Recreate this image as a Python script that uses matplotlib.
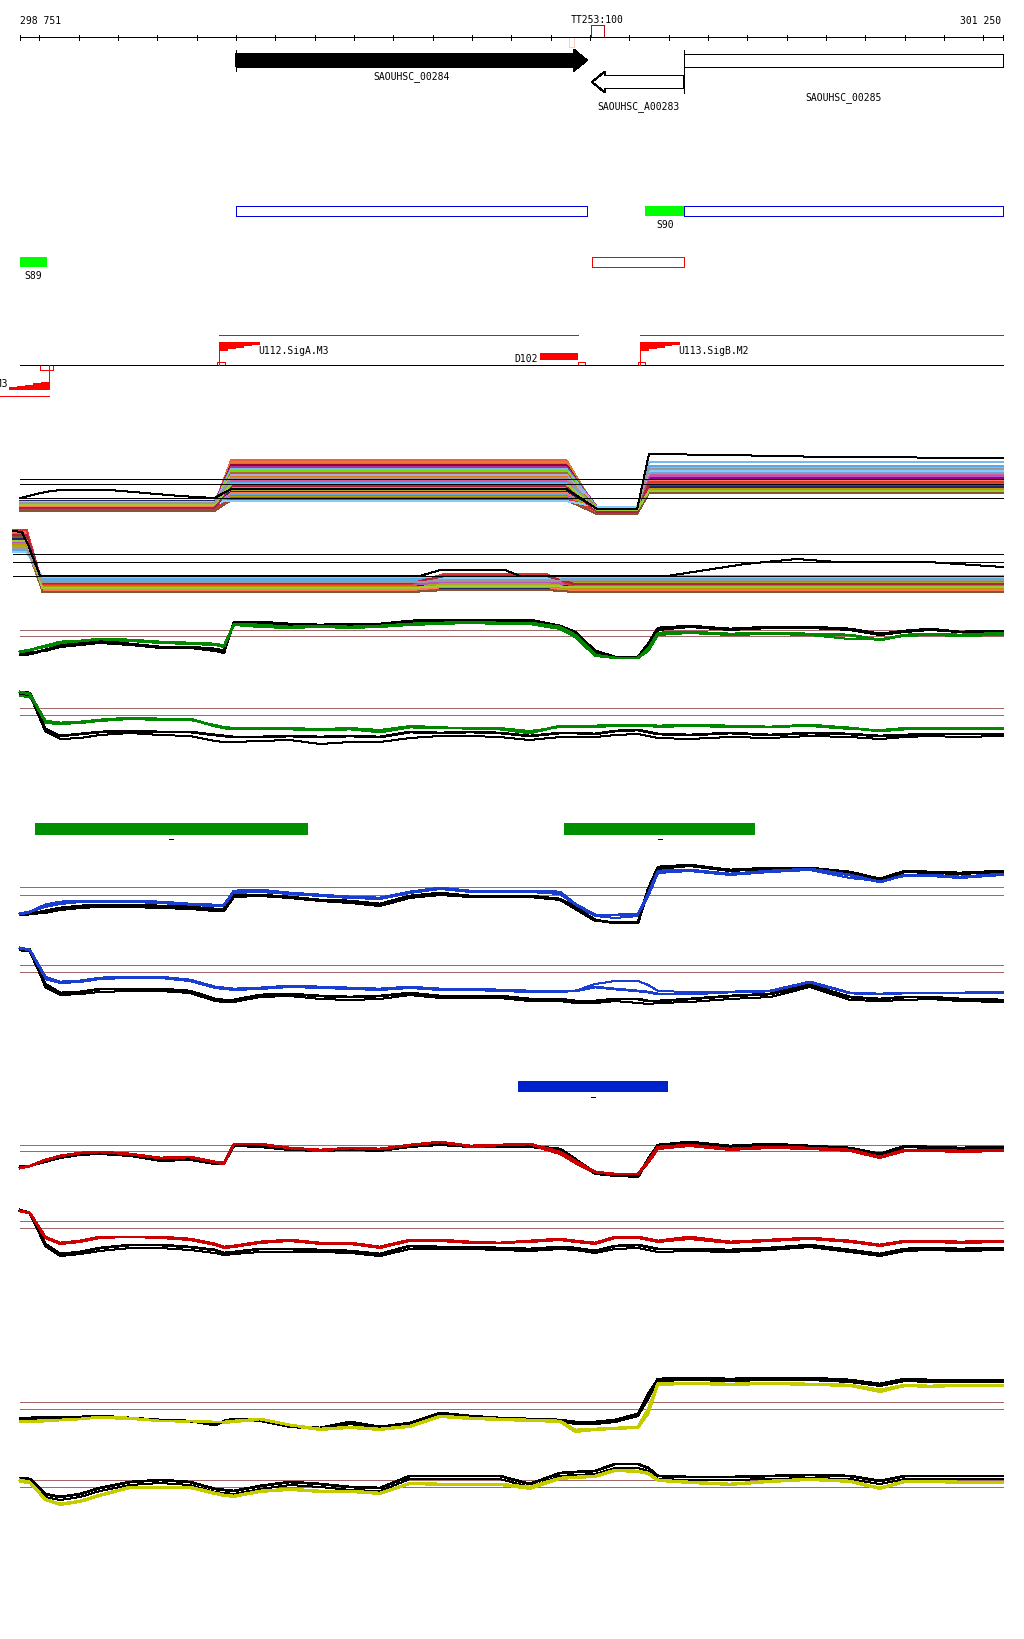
import matplotlib
matplotlib.use("Agg")
import matplotlib.pyplot as plt
from matplotlib.patches import Rectangle, Polygon

plt.rcParams['font.family'] = ['DejaVu Sans Mono', 'DejaVu Sans']
plt.rcParams['lines.antialiased'] = False
plt.rcParams['patch.antialiased'] = False

# ---------------- data ----------------
view_start = 298751
view_end = 301250
ruler_step = 100

gene_names = ['SAOUHSC_00284', 'SAOUHSC_A00283', 'SAOUHSC_00285']
gene_start = [299301, 300205, 300440]
gene_end = [300192, 300440, 301250]
gene_strand = ['+', '-', '+']
gene_fill = ['black', 'white', 'white']

ruler_mark = 'TT253:100'
ruler_mark_start, ruler_mark_end = 300203, 300236
faint_mark_start, faint_mark_end = 300147, 300160

feat_start = [299301, 300440, 300340, 298751, 300205]
feat_end = [300192, 301250, 300440, 298820, 300440]
feat_kind = ['blue', 'blue', 'green', 'green', 'red']
feat_label = ['', '', 'S90', 'S89', '']

promoter_names = ['U111.SigA.M3', 'U112.SigA.M3', 'U113.SigB.M2']
promoter_pos = [298824, 299258, 300327]
promoter_strand = ['-', '+', '+']
terminator_name = 'D102'
terminator_start, terminator_end = 300073, 300170
transcript_start = [298650, 299258, 300327]
transcript_end = [298824, 300170, 301250]
transcript_strand = ['-', '+', '+']

green_bar_start = [298788, 300134]
green_bar_end = [299482, 300620]
blue_bar_start = [300017]
blue_bar_end = [300398]

# multi-condition tracks (one line per condition)
multi_colors = ['#f06040', '#e87a30', '#999900', '#990033', '#aa3399', '#77bbee', '#77dd00',
                '#aa6633', '#aaaadd', '#dd7722', '#888800', '#dd5599', '#55aaee', '#ee8866',
                '#990099', '#66cc00', '#cc6633', '#aaaa22', '#222266', '#ff7755', '#66aadd',
                '#bb55bb', '#bb9900', '#dd3333', '#885533', '#88ccff', '#aa2244', '#99cc33',
                '#999999']
A_nodes = [298751, 299245, 299288, 300140, 300218, 300320, 300350, 301250]
A_left = [14, 15, 13, 16, 17, 15, 14, 12, 16, 14, 17, 15, 18, 13, 17, 16, 14, 15, 18, 12,
          16, 14, 15, 10, 8, 17, 11, 14, 16]
A_mid = [59, 57, 55, 54, 52, 50, 48, 46, 44, 42, 40, 38, 36, 34, 32, 31, 29, 28, 27, 26,
         24, 23, 22, 21, 19, 18, 33, 35, 41]
A_dip = [8, 10, 11, 9, 12, 11, 10, 7, 12, 8, 11, 9, 10, 8, 11, 12, 7, 10, 11, 6,
         10, 9, 11, 8, 5, 12, 7, 9, 10]
A_right = [44, 42, 38, 49, 47, 57, 33, 40, 51, 36, 35, 45, 53, 31, 41, 29, 34, 37, 32, 39,
           46, 43, 30, 37, 26, 48, 34, 28, 50]
A_black_pos = [298751, 298815, 298853, 298980, 299158, 299245, 299288, 300140, 300218,
               300320, 300350, 300543, 300810, 301250]
A_black_val = [21, 27, 29, 29, 23, 21, 30, 30, 10, 10, 65, 64, 62, 61]
A_refs = [40, 35, 21]

B_nodes = [298733, 298768, 298808, 299745, 299830, 300090, 300160, 301250]
B_start = [75, 70, 65, 72, 68, 60, 66, 62, 58, 73, 69, 71, 59, 74, 67, 64, 76, 63, 70, 77,
           61, 66, 65, 79, 72, 57, 74, 68, 60]
B_flat1 = [24, 22, 26, 27, 25, 30, 23, 18, 28, 21, 24, 26, 31, 20, 25, 22, 21, 23, 24, 19,
           29, 24, 22, 25, 17, 32, 26, 21, 27]
B_flat2 = [26, 24, 28, 30, 27, 32, 25, 20, 30, 23, 26, 28, 32, 22, 29, 24, 24, 25, 20, 22,
           30, 27, 23, 35, 19, 31, 33, 23, 28]
B_flat3 = [25, 27, 23, 28, 26, 32, 24, 19, 31, 22, 21, 27, 33, 20, 25, 23, 21, 26, 24, 18,
           30, 24, 20, 22, 17, 32, 25, 22, 29]
B_black_pos = [298733, 298756, 298771, 298802, 299768, 299819, 299984, 300022, 300396,
               300594, 300726, 300828, 301059, 301250]
B_black_val = [78, 77, 65, 33, 33, 39, 39, 33, 33, 45, 50, 47, 47, 42]
B_refs = [55, 47, 33]

# paired tracks: probe positions shared by all
probe_pos = [298751, 298776, 298815, 298853, 298904, 298954, 299031, 299107, 299183, 299247,
             299270, 299295, 299361, 299437, 299514, 299590, 299666, 299742, 299819, 299895,
             299971, 300047, 300124, 300162, 300213, 300264, 300322, 300348, 300373, 300454,
             300556, 300658, 300759, 300861, 300937, 301001, 301064, 301141, 301250]

C_k1 = [14, 15, 19, 23, 26, 28, 25, 22, 22, 20, 18, 47, 47, 45, 44, 45, 45, 48, 49, 49, 49, 49, 43, 37, 18, 12, 12, 25, 41, 43, 40, 42, 42, 40, 35, 38, 40, 37, 38]
C_k2 = [16, 17, 18, 22, 24, 26, 24, 21, 21, 18, 16, 46, 45, 44, 43, 44, 44, 46, 48, 48, 48, 48, 42, 34, 15, 11, 11, 22, 39, 42, 39, 41, 41, 39, 34, 37, 39, 37, 38]
C_c1 = [17, 19, 23, 27, 28, 30, 29, 27, 26, 25, 23, 45, 44, 42, 43, 42, 43, 45, 46, 47, 46, 46, 42, 34, 14, 11, 11, 20, 36, 37, 35, 36, 35, 34, 29, 34, 35, 34, 36]
C_c2 = [18, 19, 22, 25, 27, 29, 28, 26, 25, 24, 22, 44, 42, 41, 42, 41, 42, 44, 45, 46, 45, 45, 40, 32, 13, 11, 11, 18, 34, 36, 34, 35, 34, 30, 30, 33, 34, 33, 34]
C_refs = [39.5, 33]

D_k1 = [57, 56, 20, 13, 15, 17, 18, 17, 17, 14, 13, 12, 12, 13, 12, 13, 12, 17, 16, 17, 16, 13, 16, 16, 15, 18, 19, 17, 15, 14, 16, 14, 16, 15, 13, 14, 15, 15, 15]
D_k2 = [55, 54, 18, 10, 11, 14, 16, 14, 13, 8, 7, 7, 8, 9, 5, 7, 7, 11, 13, 13, 12, 9, 12, 12, 12, 14, 15, 13, 11, 10, 12, 11, 13, 12, 10, 12, 13, 12, 13]
D_c1 = [57, 55, 28, 26, 27, 29, 31, 30, 30, 23, 21, 20, 20, 20, 19, 20, 17, 22, 21, 21, 20, 16, 23, 23, 23, 24, 24, 24, 23, 24, 23, 22, 24, 21, 18, 20, 20, 20, 20]
D_c2 = [53, 52, 26, 25, 26, 28, 30, 29, 29, 24, 22, 21, 21, 21, 20, 21, 19, 23, 22, 20, 21, 18, 22, 22, 22, 23, 23, 23, 22, 23, 22, 22, 23, 20, 19, 21, 21, 21, 21]
D_refs = [41, 34.5]

E_k1 = [14, 15, 18, 21, 23, 24, 24, 23, 22, 20, 20, 34, 34, 32, 29, 28, 25, 33, 36, 33, 33, 33, 30, 22, 9, 6, 6, 40, 62, 64, 59, 61, 61, 57, 50, 58, 57, 56, 58]
E_k2 = [15, 15, 16, 19, 21, 22, 22, 21, 20, 18, 18, 32, 33, 31, 28, 26, 23, 31, 34, 32, 32, 32, 29, 20, 8, 7, 7, 36, 60, 63, 58, 60, 60, 56, 49, 57, 56, 55, 57]
E_c1 = [15, 17, 24, 27, 28, 28, 28, 27, 25, 24, 24, 38, 39, 36, 34, 32, 31, 37, 41, 38, 38, 38, 37, 25, 14, 14, 15, 35, 58, 59, 55, 58, 60, 54, 47, 54, 54, 52, 55]
E_c2 = [16, 17, 22, 25, 27, 27, 27, 26, 24, 23, 23, 36, 37, 35, 33, 31, 30, 36, 40, 37, 37, 37, 35, 24, 13, 11, 13, 33, 56, 58, 54, 57, 59, 51, 48, 53, 53, 51, 54]
E_refs = [42, 34.5]

F_k1 = [59, 58, 25, 16, 17, 20, 20, 20, 18, 10, 9, 9, 14, 15, 13, 12, 13, 16, 13, 13, 13, 10, 10, 8, 8, 10, 10, 8, 8, 10, 13, 15, 24, 12, 10, 12, 12, 10, 9]
F_k2 = [61, 60, 22, 14, 15, 17, 18, 18, 16, 8, 7, 7, 12, 13, 10, 9, 10, 14, 11, 11, 11, 8, 8, 6, 6, 8, 6, 5, 6, 7, 10, 12, 22, 9, 8, 9, 10, 8, 7]
F_c1 = [61, 59, 32, 27, 28, 31, 32, 32, 29, 22, 21, 20, 21, 23, 22, 21, 20, 22, 20, 20, 19, 18, 18, 18, 22, 20, 18, 17, 15, 15, 17, 18, 27, 16, 15, 16, 16, 16, 17]
F_c2 = [60, 58, 30, 26, 27, 30, 31, 31, 28, 21, 20, 19, 20, 22, 21, 20, 19, 21, 19, 19, 18, 17, 17, 18, 25, 28, 28, 24, 18, 17, 17, 18, 26, 16, 15, 16, 16, 16, 16]
F_refs = [44.5, 37.5]

G_k1 = [22, 23, 28, 32, 35, 36, 34, 29, 30, 26, 26, 44, 43, 40, 39, 40, 39, 43, 45, 43, 43, 43, 40, 30, 16, 14, 12, 30, 44, 47, 43, 45, 43, 41, 35, 43, 42, 41, 42]
G_k2 = [23, 23, 27, 31, 34, 35, 33, 28, 29, 25, 25, 43, 42, 39, 38, 39, 38, 42, 44, 42, 42, 42, 39, 28, 15, 13, 13, 28, 42, 46, 42, 44, 42, 40, 33, 42, 41, 40, 41]
G_c1 = [21, 23, 29, 33, 36, 37, 35, 31, 32, 27, 26, 45, 45, 41, 39, 41, 40, 44, 47, 43, 44, 45, 37, 28, 17, 15, 15, 28, 42, 44, 40, 42, 41, 39, 32, 39, 39, 38, 39]
G_c2 = [22, 23, 28, 32, 35, 36, 34, 30, 31, 26, 25, 44, 44, 40, 38, 40, 39, 43, 46, 42, 43, 44, 35, 26, 16, 14, 14, 26, 40, 43, 39, 41, 40, 38, 31, 38, 38, 37, 38]
G_refs = [44.5, 38]

H_k1 = [54, 51, 20, 10, 12, 16, 19, 19, 17, 14, 11, 12, 15, 15, 14, 13, 10, 18, 17, 17, 16, 15, 17, 16, 13, 18, 19, 17, 15, 15, 14, 16, 19, 14, 10, 15, 16, 15, 16]
H_k2 = [54, 51, 18, 8, 10, 13, 16, 16, 14, 11, 9, 10, 12, 12, 12, 11, 8, 15, 15, 15, 14, 13, 15, 14, 11, 15, 16, 14, 12, 13, 12, 14, 17, 12, 8, 13, 14, 13, 14]
H_c1 = [53, 51, 27, 21, 23, 27, 27, 27, 25, 20, 17, 18, 22, 24, 21, 21, 17, 24, 24, 22, 21, 23, 25, 23, 21, 27, 27, 25, 23, 27, 22, 24, 26, 23, 19, 23, 23, 22, 23]
H_c2 = [54, 51, 26, 20, 22, 26, 27, 26, 24, 19, 16, 17, 21, 23, 20, 20, 16, 23, 23, 21, 21, 22, 24, 22, 20, 26, 26, 24, 22, 25, 21, 23, 25, 22, 18, 22, 22, 21, 22]
H_refs = [42.7, 35.7]

I_k1 = [26, 26, 27, 27, 27, 28, 26, 24, 23, 19, 23, 25, 24, 18, 16, 22, 17, 21, 31, 28, 26, 25, 24, 22, 22, 24, 30, 50, 65, 66, 65, 66, 66, 64, 60, 65, 64, 64, 64]
I_k2 = [25, 25, 26, 26, 26, 27, 25, 23, 22, 21, 22, 24, 23, 17, 15, 20, 16, 20, 29, 27, 25, 24, 23, 20, 20, 22, 28, 45, 63, 64, 63, 64, 64, 62, 58, 63, 62, 62, 62]
I_c1 = [22, 22, 23, 24, 25, 27, 26, 23, 23, 22, 22, 23, 25, 19, 15, 17, 15, 18, 28, 26, 25, 24, 23, 14, 15, 16, 17, 35, 61, 61, 60, 61, 60, 59, 54, 59, 58, 59, 59]
I_c2 = [23, 23, 24, 24, 25, 26, 25, 23, 22, 21, 21, 22, 24, 18, 14, 16, 14, 17, 27, 25, 24, 23, 22, 12, 14, 15, 16, 30, 59, 60, 59, 60, 59, 58, 52, 58, 57, 58, 58]
I_refs = [41.7, 34.7]

J_k1 = [41, 40, 25, 22, 25, 31, 37, 39, 37, 30, 29, 28, 33, 37, 35, 32, 31, 43, 43, 43, 43, 35, 46, 47, 48, 55, 55, 51, 43, 42, 42, 43, 44, 43, 38, 43, 43, 43, 43]
J_k2 = [40, 39, 22, 19, 22, 28, 34, 36, 34, 27, 26, 25, 30, 34, 32, 29, 28, 40, 40, 40, 40, 32, 43, 44, 45, 51, 51, 48, 40, 39, 39, 40, 41, 40, 35, 40, 40, 40, 40]
J_c1 = [39, 37, 20, 15, 18, 24, 32, 32, 32, 26, 24, 23, 28, 30, 28, 28, 26, 36, 35, 35, 35, 32, 41, 42, 43, 49, 48, 46, 39, 37, 35, 38, 40, 38, 31, 38, 38, 37, 37]
J_c2 = [37, 36, 19, 14, 17, 23, 31, 31, 31, 25, 23, 22, 27, 29, 27, 27, 25, 35, 34, 34, 34, 30, 40, 41, 42, 48, 47, 45, 38, 36, 34, 37, 39, 37, 30, 37, 37, 36, 36]
J_refs = [39, 32.5]

# ---------------- layout ----------------
W, H = 1024, 1640
px_per_bp = 983 / (view_end - view_start)
bp = 1 / px_per_bp            # one pixel, in bp
xlim = (view_start - 20 * bp, view_start + (W - 20) * bp)
FS = 7
LW1 = 0.72                    # one pixel
ref_color = '#a06868'

fig = plt.figure(figsize=(W / 100, H / 100), dpi=100)
ax = fig.add_axes([0, 0, 1, 1])
ax.set_xlim(xlim)
ax.set_ylim(H, 0)
ax.axis('off')

# ruler
ax.hlines(38.3, view_start, view_end, color='black', lw=LW1)
ticks = [view_start] + list(range(298800, view_end, ruler_step)) + [view_end]
ax.vlines(ticks, 35.5, 41, color='black', lw=LW1)
ax.text(view_start, 24, '298 751', fontsize=FS, ha='left', va='baseline')
ax.text(view_end - 2 * bp, 24, '301 250', fontsize=FS, ha='right', va='baseline')
ax.text((ruler_mark_start + ruler_mark_end) / 2, 23.3, ruler_mark, fontsize=FS,
        ha='center', va='baseline')
ax.add_patch(Rectangle((ruler_mark_start, 25.7), ruler_mark_end - ruler_mark_start, 12.6,
                       fill=False, edgecolor='#aa1111', lw=LW1))
ax.add_patch(Rectangle((faint_mark_start, 38.3), faint_mark_end - faint_mark_start, 9.7,
                       fill=False, edgecolor='#f5cfc0', lw=LW1))

# genes
gene_row = {'SAOUHSC_00284': 0, 'SAOUHSC_A00283': 1, 'SAOUHSC_00285': 0}
gene_label_y = {'SAOUHSC_00284': 79, 'SAOUHSC_A00283': 109, 'SAOUHSC_00285': 100}
head = 33
for name, s, e, strand, fill in zip(gene_names, gene_start, gene_end, gene_strand, gene_fill):
    yc = 61.3 + 21.7 * gene_row[name]
    bh, hh = 6.5, 10.6
    if strand == '+':
        if e < view_end:
            b = e - head
            pts = [(s, yc - bh), (b, yc - bh), (b, yc - hh), (e, yc), (b, yc + hh),
                   (b, yc + bh), (s, yc + bh)]
        else:
            pts = [(s, yc - bh), (e, yc - bh), (e, yc + bh), (s, yc + bh)]
        tick_x = s
    else:
        b = s + head
        pts = [(e, yc - bh), (b, yc - bh), (b, yc - hh), (s, yc), (b, yc + hh),
               (b, yc + bh), (e, yc + bh)]
        tick_x = e
    ax.add_patch(Polygon(pts, closed=True, facecolor=fill, edgecolor='black', lw=LW1))
    ax.vlines(tick_x, yc - hh, yc + hh, color='black', lw=LW1)
    ax.text((s + min(e, view_end)) / 2, gene_label_y[name], name, fontsize=FS,
            ha='center', va='baseline')

# transcription units / sigma sites
feat_rows = [207.3, 207.3, 207.3, 258.3, 258.3]
for s, e, kind, lab, y in zip(feat_start, feat_end, feat_kind, feat_label, feat_rows):
    if kind == 'green':
        ax.add_patch(Rectangle((s, y), e - s, 9.5, facecolor='#00ff00', edgecolor='none'))
    else:
        col = '#0000dd' if kind == 'blue' else '#ff0000'
        ax.add_patch(Rectangle((s, y), e - s, 9.5, fill=False, edgecolor=col, lw=LW1))
    if lab:
        ax.text((s + e) / 2, y + 20.7, lab, fontsize=FS, ha='center', va='baseline')

# promoters, terminator, transcripts
line_y = 366.3
ax.hlines(line_y, view_start, view_end, color='black', lw=LW1)
for s, e, strand in zip(transcript_start, transcript_end, transcript_strand):
    ax.hlines(336 if strand == '+' else 397.3, s, e, color='#ff0000', lw=LW1)

flag_len = 100
steps = 5
for name, p, strand in zip(promoter_names, promoter_pos, promoter_strand):
    if strand == '+':
        dx, base, dy, fh = 1, 343.3, 1, 7.7
    else:
        dx, base, dy, fh = -1, 389.7, -1, 7.0
    ax.vlines(p, min(base, line_y), max(base, line_y), color='#ff0000', lw=LW1)
    pts = [(p, base), (p + dx * flag_len, base)]
    for k in range(steps - 1, -1, -1):
        xk = p + dx * flag_len * (k + 1) / steps
        yk = base + dy * fh * (steps - k) / steps
        pts += [(xk, yk), (p + dx * flag_len * k / steps, yk)]
    ax.add_patch(Polygon(pts, closed=True, facecolor='#ff0000', edgecolor='#ff0000', lw=0.4))
    if strand == '+':
        ax.add_patch(Rectangle((p - 5, line_y - 3.6), 19, 3.6, fill=False,
                               edgecolor='#ff0000', lw=LW1))
        ax.text(p + flag_len - 1 * bp, 354.3, name, fontsize=FS, ha='left', va='baseline')
    else:
        ax.add_patch(Rectangle((p - 21, line_y), 33, 4.4, fill=False,
                               edgecolor='#ff0000', lw=LW1))
        ax.text(p - flag_len - 1.5 * bp, 386.7, name, fontsize=FS, ha='right',
                va='baseline')

ax.add_patch(Rectangle((terminator_start, 353.5), terminator_end - terminator_start, 7.5,
                       facecolor='#ff0000', edgecolor='none'))
ax.add_patch(Rectangle((terminator_end, line_y - 3.8), 17, 3.8, fill=False,
                       edgecolor='#ff0000', lw=LW1))
ax.text(terminator_start - 2 * bp, 361.5, terminator_name, fontsize=FS, ha='right',
        va='baseline')

# condition bars
for s, e in zip(green_bar_start, green_bar_end):
    ax.add_patch(Rectangle((s, 824), e - s, 11.5, facecolor='#008f00', edgecolor='none'))
    ax.hlines(840, (s + e) / 2 - 2 * bp, (s + e) / 2 + 2 * bp, color='black', lw=LW1)
for s, e in zip(blue_bar_start, blue_bar_end):
    ax.add_patch(Rectangle((s, 1082), e - s, 11, facecolor='#0022cc', edgecolor='none'))
    ax.hlines(1098, (s + e) / 2 - 2 * bp, (s + e) / 2 + 2 * bp, color='black', lw=LW1)


def track_axes(top, bottom):
    a = fig.add_axes([0, 1 - bottom / H, 1, (bottom - top) / H])
    a.set_xlim(xlim)
    a.set_ylim(0, bottom - top)
    a.axis('off')
    return a


# multi-condition tracks
axA = track_axes(430, 520)
for c, l, m, d, r in zip(multi_colors, A_left, A_mid, A_dip, A_right):
    axA.plot(A_nodes, [l, l, m, m, d, d, r, r], color=c, lw=LW1)
axA.plot(A_black_pos, A_black_val, color='black', lw=LW1)
axA.hlines(A_refs, view_start, view_end, color='black', lw=LW1, zorder=5)

axB = track_axes(520, 610)
for c, s0, f1, f2, f3 in zip(multi_colors, B_start, B_flat1, B_flat2, B_flat3):
    axB.plot(B_nodes, [s0, s0, f1, f1, f2, f2, f3, f3], color=c, lw=LW1)
axB.plot(B_black_pos, B_black_val, color='black', lw=LW1)
axB.hlines(B_refs, B_nodes[0], view_end, color='black', lw=LW1, zorder=5)

# paired tracks
paired = [
    (610, 670, '#008800', C_k1, C_k2, C_c1, C_c2, C_refs),
    (680, 750, '#008800', D_k1, D_k2, D_c1, D_c2, D_refs),
    (850, 930, '#1a3fd0', E_k1, E_k2, E_c1, E_c2, E_refs),
    (930, 1010, '#1a3fd0', F_k1, F_k2, F_c1, F_c2, F_refs),
    (1120, 1190, '#cc0000', G_k1, G_k2, G_c1, G_c2, G_refs),
    (1195, 1265, '#cc0000', H_k1, H_k2, H_c1, H_c2, H_refs),
    (1365, 1445, '#c4cc00', I_k1, I_k2, I_c1, I_c2, I_refs),
    (1450, 1520, '#c4cc00', J_k1, J_k2, J_c1, J_c2, J_refs),
]
for top, bottom, col, k1, k2, c1, c2, refs in paired:
    a = track_axes(top, bottom)
    a.hlines(refs, view_start, view_end, color=ref_color, lw=LW1)
    a.plot(probe_pos, k2, color='black', lw=LW1)
    a.plot(probe_pos, c2, color=col, lw=LW1)
    a.plot(probe_pos, k1, color='black', lw=1.25)
    a.plot(probe_pos, c1, color=col, lw=1.25)

fig.savefig('out.png', dpi=100)
